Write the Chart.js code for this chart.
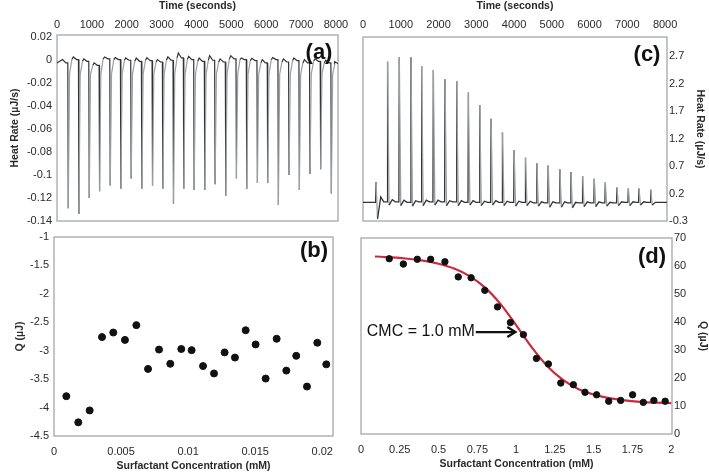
<!DOCTYPE html>
<html>
<head>
<meta charset="utf-8">
<script src="https://cdn.jsdelivr.net/npm/chart.js@4.4.1/dist/chart.umd.min.js"></script>
<style>
body { margin: 0; background: #fff; }
#wrap { position: relative; width: 709px; height: 476px; }
#wrap canvas { position: absolute; left: 0; top: 0; }
</style>
</head>
<body>
<div id="wrap">
  <canvas id="chart-a" width="709" height="476"></canvas>
  <canvas id="chart-b" width="709" height="476"></canvas>
  <canvas id="chart-c" width="709" height="476"></canvas>
  <canvas id="chart-d" width="709" height="476"></canvas>
</div>
<script>
// ---- (a) 热流曲线：注射时间、峰值、基线 ----
const timeA = [315, 621, 917, 1213, 1519, 1824, 2120, 2426, 2732, 3028, 3333, 3629, 3926,
               4231, 4527, 4833, 5139, 5435, 5740, 6036, 6342, 6648, 6944, 7249, 7555, 7861];
const peakA = [-0.129, -0.134, -0.120, -0.114, -0.109, -0.112, -0.103, -0.112, -0.109, -0.112,
               -0.125, -0.112, -0.113, -0.113, -0.108, -0.118, -0.103, -0.112, -0.107, -0.107,
               -0.126, -0.100, -0.113, -0.099, -0.095, -0.116];
const baseA = [-0.0023, 0.0006, -0.0009, -0.0044, 0.0012, 0.0006, 0.0, -0.0009, -0.0003, -0.0015,
               0.0, 0.002, 0.0006, -0.0009, 0.0, -0.0015, 0.0012, 0.0006, -0.0003, -0.0023,
               0.0006, -0.0015, -0.0003, -0.0023, -0.0009, -0.0023, -0.0029];
const highA = [0.0006, 0.0029, 0.0012, -0.0023, 0.0029, 0.0023, 0.002, 0.002, 0.0023, 0.0006,
               0.0029, 0.0064, 0.0035, 0.002, 0.004, 0.0012, 0.004, 0.002, 0.0017, 0.0006,
               0.0023, 0.0012, 0.002, 0.0006, 0.0012, 0.0, -0.0012];
const tailA = -0.012;
const timeTicks = [0, 1000, 2000, 3000, 4000, 5000, 6000, 7000, 8000];
const heatTicksA = [0.02, 0, -0.02, -0.04, -0.06, -0.08, -0.1, -0.12, -0.14];

// ---- (b) 积分热 ----
const concB = [0.00092, 0.00181, 0.00266, 0.00358, 0.00442, 0.00529, 0.00614, 0.00701, 0.00783,
               0.00867, 0.00949, 0.01026, 0.01111, 0.01193, 0.01272, 0.01349, 0.01429, 0.01503,
               0.01578, 0.01660, 0.01732, 0.01806, 0.01886, 0.01963, 0.02030];
const qB = [-3.80, -4.26, -4.05, -2.76, -2.68, -2.81, -2.55, -3.32, -2.98, -3.23, -2.97, -2.99,
            -3.27, -3.40, -3.03, -3.12, -2.64, -2.89, -3.49, -2.79, -3.35, -3.09, -3.63, -2.86, -3.24];
const concTicksB = [0, 0.005, 0.01, 0.015, 0.02];
const qTicksB = [-1, -1.5, -2, -2.5, -3, -3.5, -4, -4.5];

// ---- (c) 热流曲线 ----
const timeC = [340, 645, 955, 1264, 1547, 1857, 2166, 2476, 2785, 3086, 3386, 3687, 3996,
               4297, 4598, 4898, 5208, 5500, 5809, 6118, 6410, 6720, 7020, 7303, 7613];
const peakC = [0.41, 2.60, 2.68, 2.68, 2.52, 2.45, 2.28, 2.25, 2.04, 1.81, 1.56, 1.31, 0.99,
               0.85, 0.75, 0.71, 0.64, 0.59, 0.52, 0.47, 0.40, 0.31, 0.29, 0.29, 0.27];
const dipC = [-0.26, -0.01, -0.02, -0.03, -0.02, -0.01, -0.02, -0.02, -0.01, -0.02, -0.01, -0.02,
              -0.03, -0.02, -0.03, -0.05, -0.05, -0.06, -0.04, -0.04, -0.03, -0.02, -0.02, -0.01, -0.01];
const humpC = [0.14, 0.09, 0.08, 0.07, 0.08, 0.08, 0.07, 0.07, 0.07, 0.06, 0.07, 0.06, 0.06,
               0.06, 0.05, 0.05, 0.05, 0.04, 0.05, 0.05, 0.04, 0.05, 0.05, 0.05, 0.04];
const baseC = [0.04, 0.05, 0.05, 0.04, 0.05, 0.05, 0.05, 0.05, 0.04, 0.04, 0.04, 0.04, 0.04,
               0.04, 0.03, 0.03, 0.03, 0.03, 0.03, 0.03, 0.03, 0.03, 0.04, 0.04, 0.04, 0.04];
const heatTicksC = [-0.3, 0.2, 0.7, 1.2, 1.7, 2.2, 2.7];

// ---- (d) 积分热与拟合曲线 ----
const concD = [0.182, 0.273, 0.363, 0.449, 0.541, 0.627, 0.710, 0.798, 0.880, 0.963, 1.047, 1.131,
               1.208, 1.288, 1.369, 1.444, 1.519, 1.597, 1.674, 1.751, 1.820, 1.888, 1.961];
const qD = [62.6, 60.7, 62.4, 62.4, 61.5, 56.1, 55.8, 51.3, 45.4, 39.8, 35.5, 27.0,
            25.0, 18.2, 17.6, 14.9, 14.0, 11.7, 12.0, 14.0, 11.3, 12.0, 11.7];
const fitX = [0.09, 0.2, 0.3, 0.4, 0.5, 0.6, 0.7, 0.8, 0.9, 1.0, 1.1, 1.2, 1.3, 1.4, 1.5, 1.6, 1.7, 1.8, 1.9, 2.0];
const fitY = [63.4, 63.1, 62.6, 61.9, 60.8, 59.1, 56.4, 52.3, 46.4, 38.9, 31.0, 24.3, 19.4, 16.1, 14.1,
              12.8, 12.0, 11.5, 11.2, 11.0];
const concTicksD = [0, 0.25, 0.5, 0.75, 1, 1.25, 1.5, 1.75, 2];
const qTicksD = [0, 10, 20, 30, 40, 50, 60, 70];

Chart.defaults.font.family = '"Liberation Sans", Arial, sans-serif';
Chart.defaults.animation = false;

const tickFont = { size: 11 };
const titleFont = { size: 10.5, weight: 'bold' };
const textColor = '#2a2a2a';
const traceDark = '#333333';
const traceGray = '#9ba0a4';

// 画外框、面板标号和CMC注释
const framePlugin = {
    id: 'frame',
    beforeDatasetsDraw(chart, args, opts) {
        const a = chart.chartArea;
        const ctx = chart.ctx;
        ctx.save();
        ctx.strokeStyle = '#a2a8ac';
        ctx.lineWidth = 1.3;
        ctx.strokeRect(a.left, a.top, a.right - a.left, a.bottom - a.top);
        ctx.restore();
    },
    afterDraw(chart, args, opts) {
        const a = chart.chartArea;
        const ctx = chart.ctx;
        ctx.save();
        if (opts.label) {
            ctx.font = 'bold 22px "Liberation Sans", Arial, sans-serif';
            ctx.fillStyle = '#111';
            ctx.textAlign = 'center';
            ctx.textBaseline = 'middle';
            ctx.fillText(opts.label, a.right - opts.dx, a.top + opts.dy);
        }
        if (opts.cmc) {
            const sx = chart.scales.x, sy = chart.scales.y;
            const x0 = sx.getPixelForValue(0.74);
            const x1 = sx.getPixelForValue(0.995);
            const y = sy.getPixelForValue(36.4);
            ctx.font = '16px "Liberation Sans", Arial, sans-serif';
            ctx.fillStyle = '#111';
            ctx.textAlign = 'right';
            ctx.textBaseline = 'middle';
            ctx.fillText('CMC = 1.0 mM', x0 - 1, y);
            ctx.strokeStyle = '#111';
            ctx.lineWidth = 2.4;
            ctx.beginPath();
            ctx.moveTo(x0, y);
            ctx.lineTo(x1 - 1, y);
            ctx.stroke();
            ctx.beginPath();
            ctx.moveTo(x1 - 8, y - 5);
            ctx.lineTo(x1, y);
            ctx.lineTo(x1 - 8, y + 5);
            ctx.stroke();
        }
        ctx.restore();
    }
};

function tickList(list) {
    return s => { s.ticks = list.map(v => ({ value: v })); };
}

function axis(opts) {
    const o = {
        type: 'linear',
        position: opts.position,
        min: opts.min,
        max: opts.max,
        afterBuildTicks: tickList(opts.ticks),
        afterFit: opts.fit,
        grid: { display: false, drawTicks: false },
        border: { display: false },
        ticks: {
            padding: opts.pad,
            font: tickFont,
            color: textColor,
            autoSkip: false,
            maxRotation: 0,
            callback: v => String(v)
        },
        title: { display: true, text: opts.title, font: titleFont, color: textColor, padding: 0 }
    };
    return o;
}

// 回落段用灰色
function segColor(ctx) {
    const d = ctx.chart.data.datasets[ctx.datasetIndex].data[ctx.p0DataIndex];
    return d && d.fall ? traceGray : traceDark;
}

function buildTraceA() {
    const pts = [{ x: 0, y: baseA[0] }];
    for (let i = 0; i < timeA.length; i++) {
        const t = timeA[i];
        const prev = i === 0 ? 0 : timeA[i - 1];
        pts.push({ x: (prev + t) / 2, y: highA[i] });
        pts.push({ x: t - 60, y: baseA[i] });
        pts.push({ x: t - 5, y: baseA[i] });
        pts.push({ x: t + 8, y: peakA[i], fall: true });
        pts.push({ x: t + 45, y: tailA, fall: true });
        pts.push({ x: t + 110, y: baseA[i + 1] });
    }
    pts.push({ x: (timeA[timeA.length - 1] + 8060) / 2, y: highA[highA.length - 1] });
    pts.push({ x: 8060, y: baseA[baseA.length - 1] });
    return pts;
}

function buildTraceC() {
    const pts = [{ x: 0, y: baseC[0] }];
    for (let i = 0; i < timeC.length; i++) {
        const t = timeC[i];
        pts.push({ x: t - 5, y: baseC[i] });
        pts.push({ x: t + 6, y: peakC[i], fall: true });
        pts.push({ x: t + 45, y: dipC[i] });
        pts.push({ x: t + 130, y: humpC[i] });
        pts.push({ x: t + 210, y: baseC[i + 1] });
    }
    pts.push({ x: 8050, y: baseC[baseC.length - 1] });
    return pts;
}

// (a)
new Chart(document.getElementById('chart-a'), {
    type: 'scatter',
    data: {
        datasets: [{
            data: buildTraceA(),
            showLine: true,
            borderColor: traceDark,
            segment: { borderColor: segColor },
            borderWidth: 1.2,
            pointRadius: 0
        }]
    },
    options: {
        responsive: false,
        layout: { padding: { left: 9, top: 0, right: 371, bottom: 255 } },
        plugins: { legend: { display: false }, tooltip: { enabled: false },
                   frame: { label: '(a)', dx: 19, dy: 18 } },
        scales: {
            x: axis({ position: 'top', min: 0, max: 8060, ticks: timeTicks, pad: 3,
                      title: 'Time (seconds)', fit: s => { s.height = 35; } }),
            y: axis({ position: 'left', min: -0.14, max: 0.022, ticks: heatTicksA, pad: 5,
                      title: 'Heat Rate (\u00b5J/s)', fit: s => { s.width = 48; } })
        }
    },
    plugins: [framePlugin]
});

// (b)
new Chart(document.getElementById('chart-b'), {
    type: 'scatter',
    data: {
        datasets: [{
            data: concB.map((c, i) => ({ x: c, y: qB[i] })),
            pointRadius: 3.5,
            pointBackgroundColor: '#111',
            pointBorderColor: '#111'
        }]
    },
    options: {
        responsive: false,
        layout: { padding: { left: 13.7, top: 237, right: 376, bottom: 3.7 } },
        plugins: { legend: { display: false }, tooltip: { enabled: false },
                   frame: { label: '(b)', dx: 19, dy: 14 } },
        scales: {
            x: axis({ position: 'bottom', min: 0, max: 0.0208, ticks: concTicksB, pad: 9,
                      title: 'Surfactant Concentration (mM)', fit: s => { s.height = 36.3; } }),
            y: axis({ position: 'left', min: -4.5, max: -1, ticks: qTicksB, pad: 5,
                      title: 'Q (\u00b5J)', fit: s => { s.width = 40.3; } })
        }
    },
    plugins: [framePlugin]
});

// (c)
new Chart(document.getElementById('chart-c'), {
    type: 'scatter',
    data: {
        datasets: [{
            data: buildTraceC(),
            showLine: true,
            borderColor: traceDark,
            segment: { borderColor: segColor },
            borderWidth: 1.3,
            pointRadius: 0
        }]
    },
    options: {
        responsive: false,
        layout: { padding: { left: 363, top: 0, right: 2.7, bottom: 255 } },
        plugins: { legend: { display: false }, tooltip: { enabled: false },
                   frame: { label: '(c)', dx: 20, dy: 18 } },
        scales: {
            x: axis({ position: 'top', min: 0, max: 8050, ticks: timeTicks, pad: 5,
                      title: 'Time (seconds)', fit: s => { s.height = 37; } }),
            y: axis({ position: 'right', min: -0.3, max: 3.05, ticks: heatTicksC, pad: 2,
                      title: 'Heat Rate (\u00b5J/s)', fit: s => { s.width = 39.3; } })
        }
    },
    plugins: [framePlugin]
});

// (d)
new Chart(document.getElementById('chart-d'), {
    type: 'scatter',
    data: {
        datasets: [{
            data: concD.map((c, i) => ({ x: c, y: qD[i] })),
            pointRadius: 3.2,
            pointBackgroundColor: '#111',
            pointBorderColor: '#111'
        }, {
            data: fitX.map((c, i) => ({ x: c, y: fitY[i] })),
            showLine: true,
            borderColor: '#cc2a3c',
            borderWidth: 2.2,
            pointRadius: 0,
            cubicInterpolationMode: 'monotone'
        }]
    },
    options: {
        responsive: false,
        layout: { padding: { left: 361, top: 238, right: 0, bottom: 5.7 } },
        plugins: { legend: { display: false }, tooltip: { enabled: false },
                   frame: { label: '(d)', dx: 20, dy: 19, cmc: true } },
        scales: {
            x: axis({ position: 'bottom', min: 0, max: 2.005, ticks: concTicksD, pad: 9,
                      title: 'Surfactant Concentration (mM)', fit: s => { s.height = 36.3; } }),
            y: axis({ position: 'right', min: 0, max: 70, ticks: qTicksD, pad: 2,
                      title: 'Q (\u00b5J)', fit: s => { s.width = 37; } })
        }
    },
    plugins: [framePlugin]
});
</script>
</body>
</html>
